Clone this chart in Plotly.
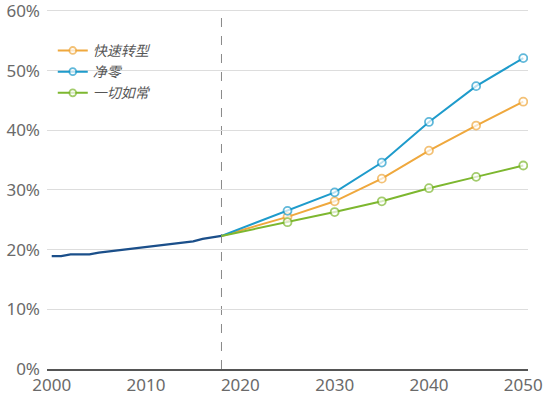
import plotly.graph_objects as go

hist_years = list(range(2000, 2019))
hist_vals = [18.9, 18.9, 19.2, 19.2, 19.2, 19.5, 19.7, 19.9, 20.0, 20.3, 20.5,
             20.7, 20.9, 21.1, 21.3, 21.4, 21.8, 22.0, 22.3]

scen_years = [2018, 2025, 2030, 2035, 2040, 2045, 2050]
fast = [22.3, 25.5, 28.1, 31.9, 36.6, 40.8, 44.8]
netzero = [22.3, 26.5, 29.6, 34.6, 41.4, 47.4, 52.1]
bau = [22.3, 24.6, 26.3, 28.1, 30.3, 32.2, 34.1]

names = ["快速转型", "净零", "一切如常"]
colors = ["#EFA83D", "#1E9BCB", "#7DB72F"]
y_ticks = [0, 10, 20, 30, 40, 50, 60]
x_ticks = [2000, 2010, 2020, 2030, 2040, 2050]

fig = go.Figure()
fig.add_trace(go.Scatter(x=hist_years, y=hist_vals, mode="lines",
                         line=dict(color="#1B4F8A", width=2.3), showlegend=False))
msize = [0] + [8] * (len(scen_years) - 1)
for nm, vals, c in zip(names, [fast, netzero, bau], colors):
    fig.add_trace(go.Scatter(x=scen_years, y=vals, mode="lines+markers", name=nm,
                             line=dict(color=c, width=2),
                             marker=dict(size=msize, color="white", symbol="circle",
                                         line=dict(color=c, width=1.8))))

fig.add_shape(type="line", x0=2018, x1=2018, y0=0, y1=60, xref="x", yref="y",
              line=dict(color="#888888", width=1, dash="dash"), layer="below")

fig.update_layout(
    width=544, height=399,
    margin=dict(l=47, r=16, t=5, b=30, autoexpand=False),
    plot_bgcolor="white", paper_bgcolor="white",
    font=dict(family="Noto Sans, Noto Sans CJK SC", size=17, color="#6A6A6A"),
    legend=dict(x=0.012, y=0.918, xanchor="left", yanchor="top",
                bgcolor="rgba(0,0,0,0)", tracegroupgap=0,
                font=dict(family="Noto Sans CJK SC", size=14, color="#555555", style="italic"),
                itemwidth=30),
    xaxis=dict(range=[1999.5, 2050.5], tickvals=x_ticks, showgrid=False,
               showline=True, linecolor="#555555", linewidth=1.5, ticks="",
               zeroline=False, automargin=False, ticklabeloverflow="allow"),
    yaxis=dict(range=[0, 61], tickvals=y_ticks, ticktext=[f"{v}%" for v in y_ticks],
               showgrid=True, gridcolor="#DDDDDD", gridwidth=1, zeroline=False,
               ticks="", ticklabelstandoff=6, automargin=False,
               ticklabeloverflow="allow"),
)
fig.write_html("out.html", config={"displayModeBar": False},
               post_script="document.body.style.margin='0';document.body.style.overflow='hidden';")
